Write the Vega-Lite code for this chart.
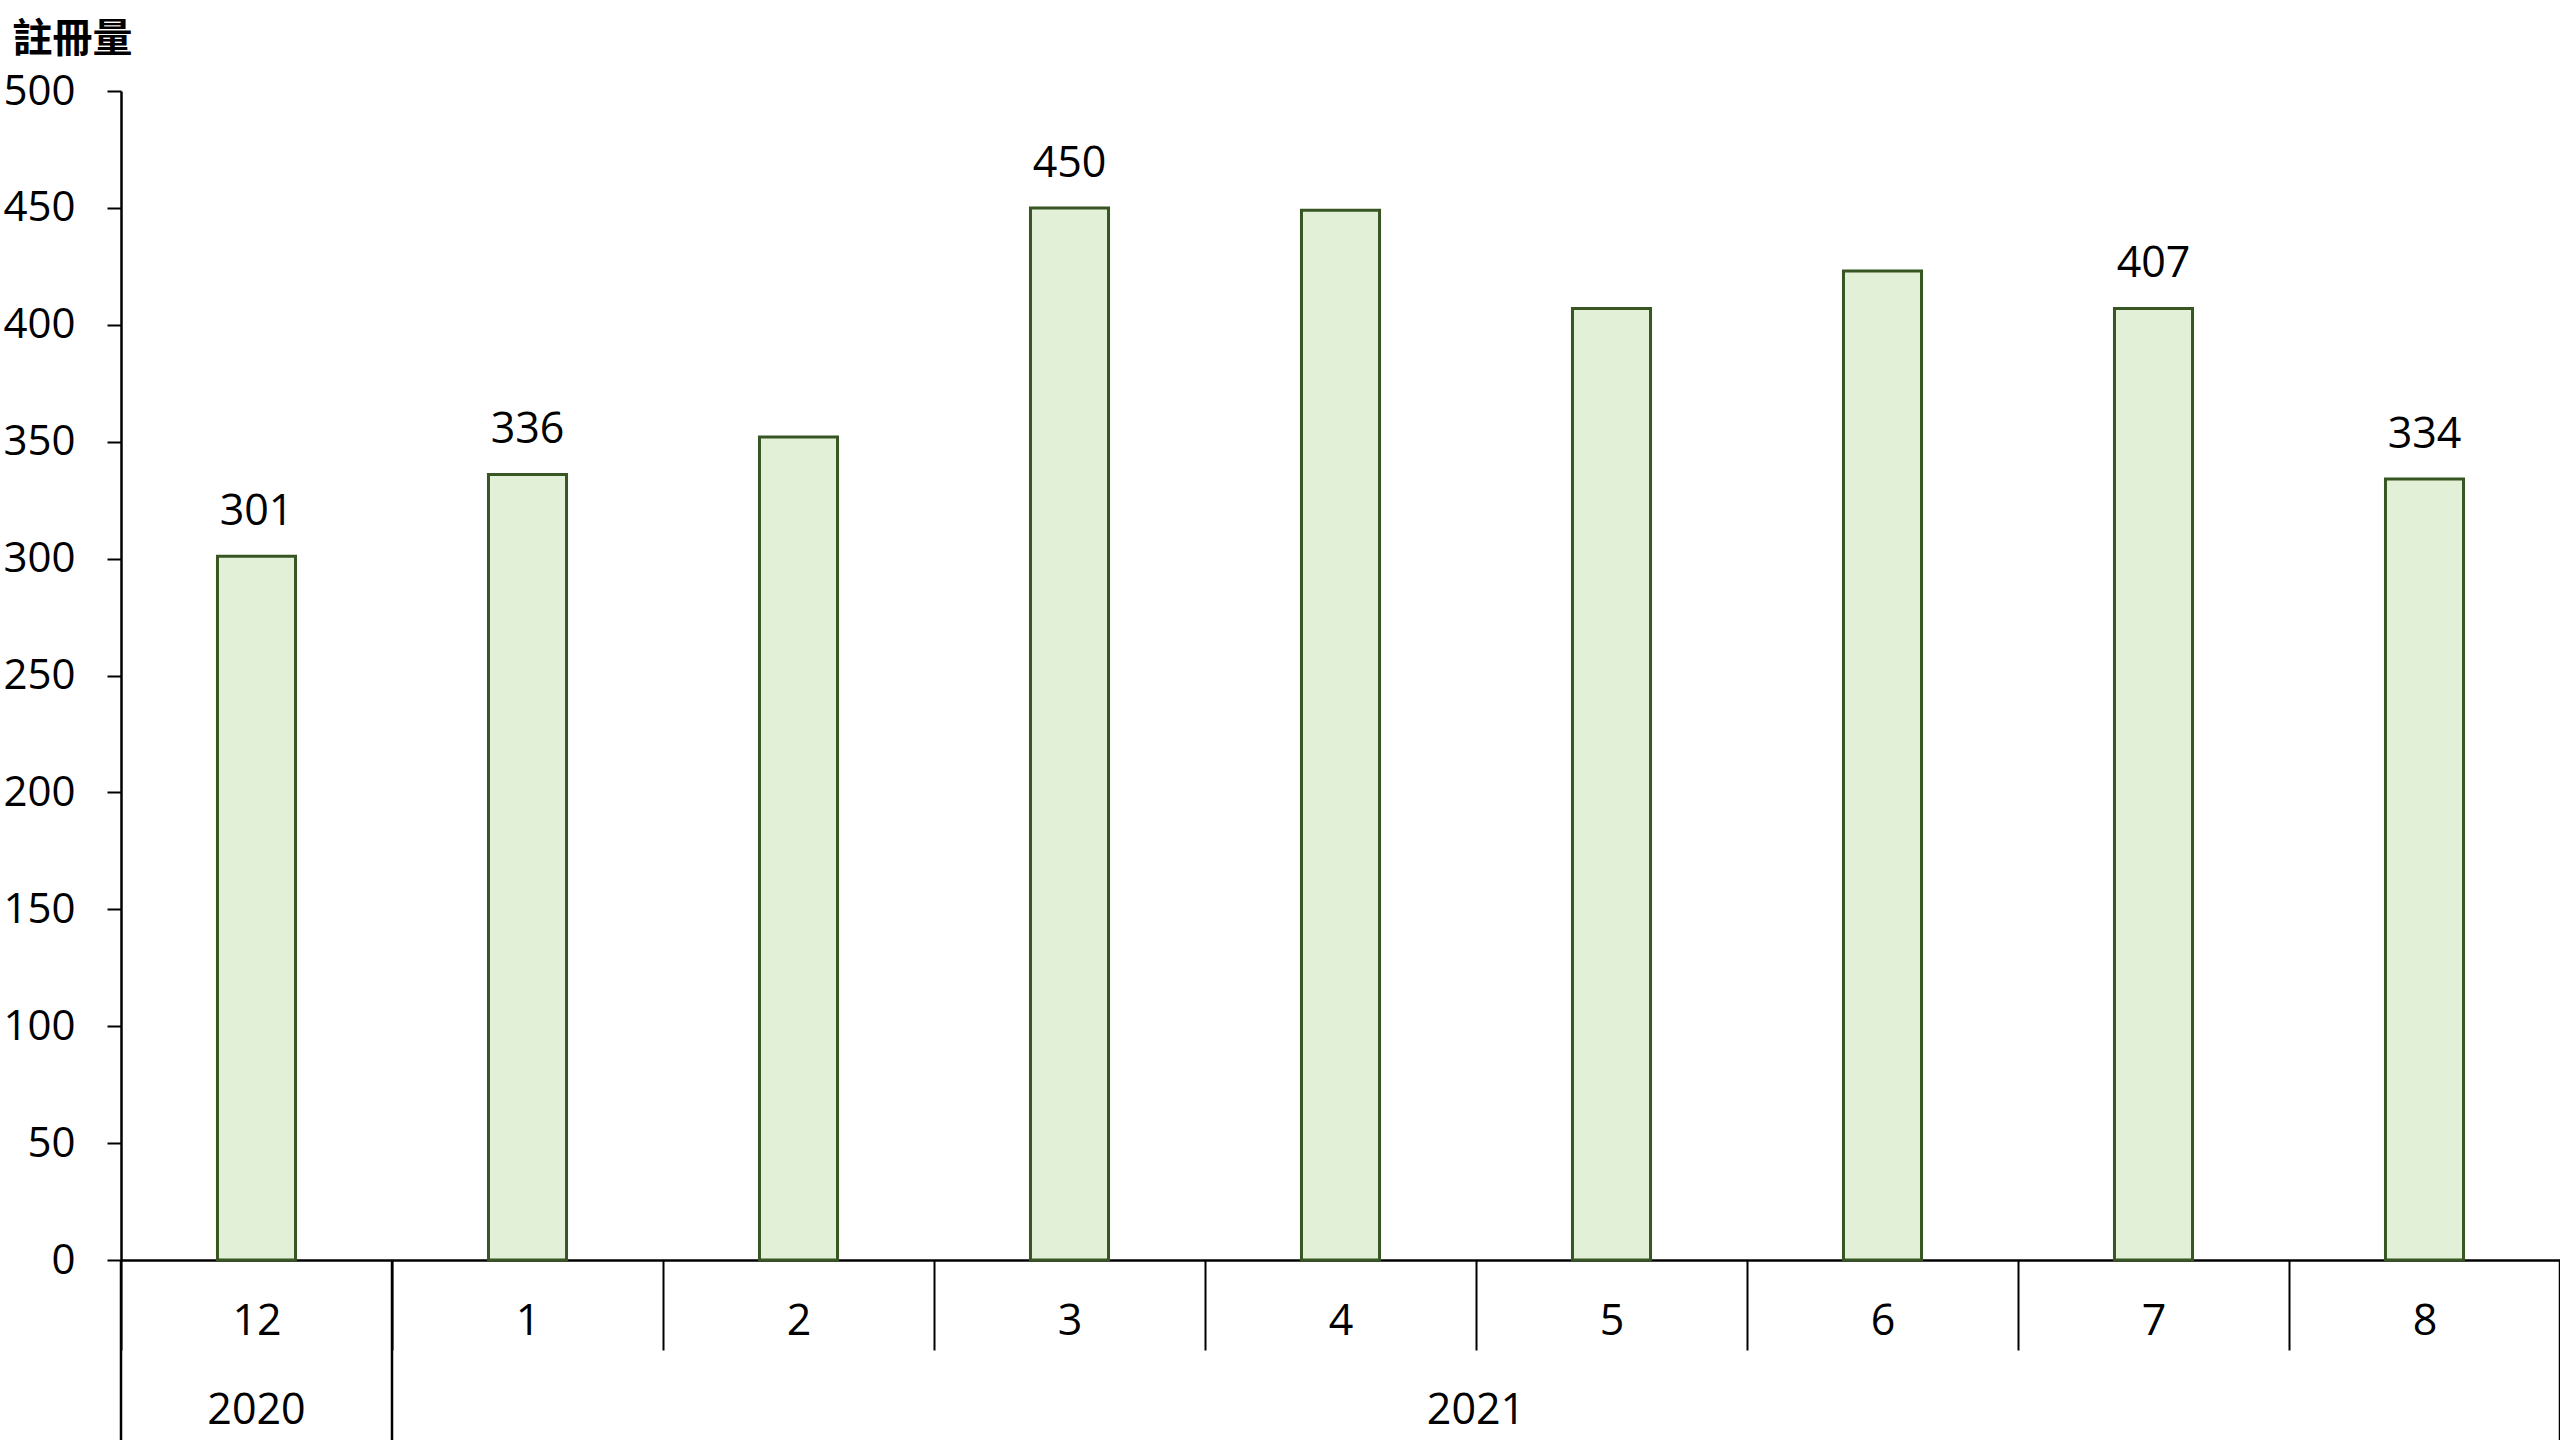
{
  "$schema": "https://vega.github.io/schema/vega-lite/v6.json",
  "width": 2439,
  "height": 1169,
  "autosize": {"type": "none"},
  "padding": {"left": 121, "top": 91, "right": 0, "bottom": 180},
  "background": "white",
  "config": {
    "view": {"stroke": null},
    "font": "Open Sans",
    "axis": {"labelFont": "Open Sans", "labelColor": "black", "domainColor": "black", "tickColor": "black"}
  },
  "data": {
    "values": [
      {"year": "2020", "month": "12", "count": 301},
      {"year": "2021", "month": "1", "count": 336},
      {"year": "2021", "month": "2", "count": 352},
      {"year": "2021", "month": "3", "count": 450},
      {"year": "2021", "month": "4", "count": 449},
      {"year": "2021", "month": "5", "count": 407},
      {"year": "2021", "month": "6", "count": 423},
      {"year": "2021", "month": "7", "count": 407},
      {"year": "2021", "month": "8", "count": 334}
    ]
  },
  "encoding": {
    "x": {
      "field": "month",
      "type": "ordinal",
      "sort": null,
      "scale": {"domain": ["12", "1", "2", "3", "4", "5", "6", "7", "8"], "paddingInner": 0, "paddingOuter": 0},
      "axis": {
        "title": null,
        "labelAngle": 0,
        "labelFontSize": 43,
        "labelBaseline": "middle",
        "labelPadding": -29,
        "tickBand": "extent",
        "tickSize": 90,
        "tickWidth": 2,
        "domainWidth": 2.5
      }
    },
    "y": {
      "field": "count",
      "type": "quantitative",
      "scale": {"domain": [0, 500], "nice": false, "zero": true},
      "axis": {
        "values": [0, 50, 100, 150, 200, 250, 300, 350, 400, 450, 500],
        "grid": false,
        "labelFontSize": 42,
        "labelPadding": 32,
        "tickSize": 14,
        "tickWidth": 2,
        "domainWidth": 2.5,
        "title": "註冊量",
        "titleFont": "Noto Sans CJK TC",
        "titleFontWeight": "bold",
        "titleFontSize": 40,
        "titleColor": "black",
        "titleAngle": 0,
        "titleAlign": "left",
        "titleBaseline": "middle",
        "titleX": -109,
        "titleY": -52
      }
    }
  },
  "layer": [
    {
      "mark": {"type": "bar", "width": {"band": 0.288}, "fill": "#e2f0d8", "stroke": "#375623", "strokeWidth": 3}
    },
    {
      "transform": [{"filter": {"field": "month", "oneOf": ["12", "1", "3", "7", "8"]}}],
      "mark": {"type": "text", "fontSize": 43, "font": "Open Sans", "color": "black", "baseline": "alphabetic", "dy": -31},
      "encoding": {"text": {"field": "count", "type": "quantitative"}}
    },
    {
      "transform": [{"filter": {"field": "month", "oneOf": ["12", "1"]}}],
      "mark": {"type": "rule", "color": "black", "strokeWidth": 2.5},
      "encoding": {
        "x": {"field": "month", "type": "ordinal", "sort": null, "bandPosition": 0},
        "y": {"datum": 0},
        "y2": {"datum": -77}
      }
    },
    {
      "transform": [{"filter": {"field": "month", "equal": "8"}}],
      "mark": {"type": "rule", "color": "black", "strokeWidth": 2.5},
      "encoding": {
        "x": {"field": "month", "type": "ordinal", "sort": null, "bandPosition": 1},
        "y": {"datum": 0},
        "y2": {"datum": -77}
      }
    },
    {
      "transform": [{"filter": {"field": "month", "equal": "12"}}],
      "mark": {"type": "text", "fontSize": 43, "font": "Open Sans", "color": "black", "baseline": "middle"},
      "encoding": {
        "x": {"field": "month", "type": "ordinal", "sort": null, "bandPosition": 0.5},
        "y": {"datum": -64.6},
        "text": {"field": "year"}
      }
    },
    {
      "transform": [{"filter": {"field": "month", "equal": "5"}}],
      "mark": {"type": "text", "fontSize": 43, "font": "Open Sans", "color": "black", "baseline": "middle"},
      "encoding": {
        "x": {"field": "month", "type": "ordinal", "sort": null, "bandPosition": 0},
        "y": {"datum": -64.6},
        "text": {"field": "year"}
      }
    }
  ]
}
